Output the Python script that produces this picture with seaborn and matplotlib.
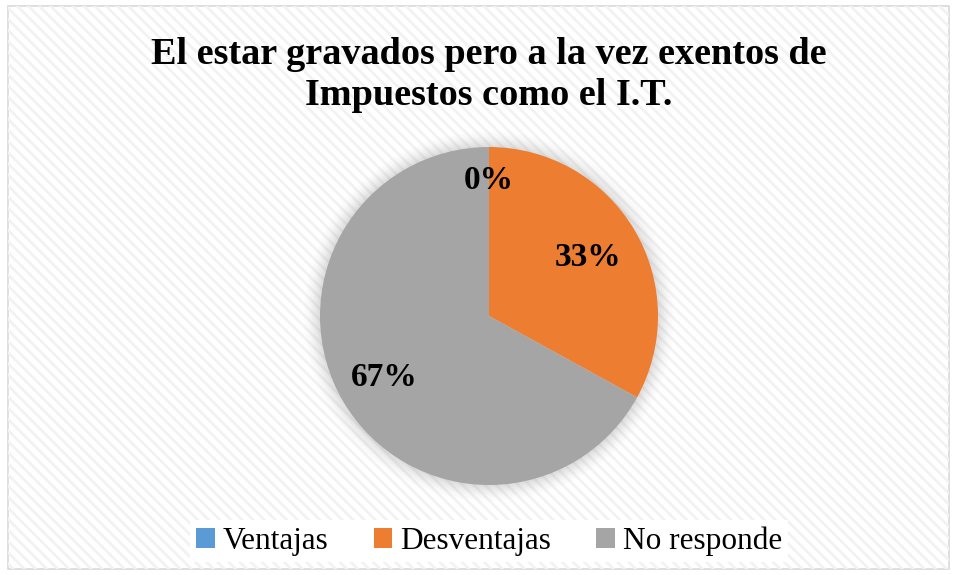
import numpy as np
import matplotlib
matplotlib.use("Agg")
import matplotlib.pyplot as plt
from matplotlib.patches import Rectangle, Circle
import seaborn as sns

# data
categories = ["Ventajas", "Desventajas", "No responde"]
values = [0, 33, 67]
colors = ["#5B9BD5", "#ED7D31", "#A5A5A5"]
title = "El estar gravados pero a la vez exentos de\nImpuestos como el I.T."

sns.set_theme(style="white")
plt.rcParams["font.family"] = ["Liberation Serif", "DejaVu Serif"]
plt.rcParams["text.color"] = "black"
plt.rcParams["hatch.color"] = "#F2F2F2"
plt.rcParams["hatch.linewidth"] = 2.0

fig = plt.figure(figsize=(9.57, 5.75), dpi=100)
W, H = 957, 575

# striped chart background with thin border (drawn behind everything)
bg = Rectangle((8 / W, 6 / H), 941 / W, 563 / H, transform=fig.transFigure,
               facecolor="white", edgecolor="#D9D9D9", linewidth=1.2, zorder=-10)
fig.patches.append(bg)
stripes = Rectangle((8 / W, 6 / H), 941 / W, 563 / H, transform=fig.transFigure,
                    facecolor="none", edgecolor="#F2F2F2", hatch="\\\\\\", linewidth=0, zorder=-9)
fig.patches.append(stripes)

# pie axes: center (489, 316), radius 169 px
cx, cy, r = 489, 316, 169
ax = fig.add_axes([(cx - r) / W, (H - cy - r) / H, 2 * r / W, 2 * r / H])
ax.set_facecolor("none")
ax.set_zorder(1)

# soft shadow around the pie
for i, a in enumerate(np.linspace(0.05, 0.01, 8)):
    ax.add_patch(Circle((0, 0), 1.0 + 0.012 * (i + 1), facecolor="#7F7F7F",
                        edgecolor="none", alpha=a, zorder=0, clip_on=False))

wedges, _ = ax.pie(values, colors=colors, startangle=90, counterclock=False,
                   radius=1.0, wedgeprops=dict(linewidth=0))
for w in wedges:
    w.set_zorder(2)

# percentage labels
total = sum(values)
dists = [0.8, 0.68, 0.72]
start = 90.0
for v, d in zip(values, dists):
    span = 360.0 * v / total
    mid = np.deg2rad(start - span / 2)
    ax.text(d * np.cos(mid), d * np.sin(mid), f"{round(100 * v / total)}%",
            ha="center", va="center", fontsize=24, fontweight="bold",
            color="black", zorder=3)
    start -= span

ax.set_xlim(-1, 1)
ax.set_ylim(-1, 1)
ax.set_aspect("equal")
ax.axis("off")

fig.text(489 / W, 1 - 75 / H, title, ha="center", va="center", color="black",
         fontsize=27.5, fontweight="bold", linespacing=1.25)

leg = fig.legend(wedges, categories, loc="center", bbox_to_anchor=(489 / W, 1 - 541 / H),
                 ncol=3, fontsize=22.5, frameon=True, facecolor="white", edgecolor="none",
                 framealpha=1, handlelength=0.6, handleheight=0.6, handletextpad=0.25,
                 columnspacing=1.45, borderpad=0.2, fancybox=False, labelcolor="black")

fig.savefig("out.png", dpi=100)
